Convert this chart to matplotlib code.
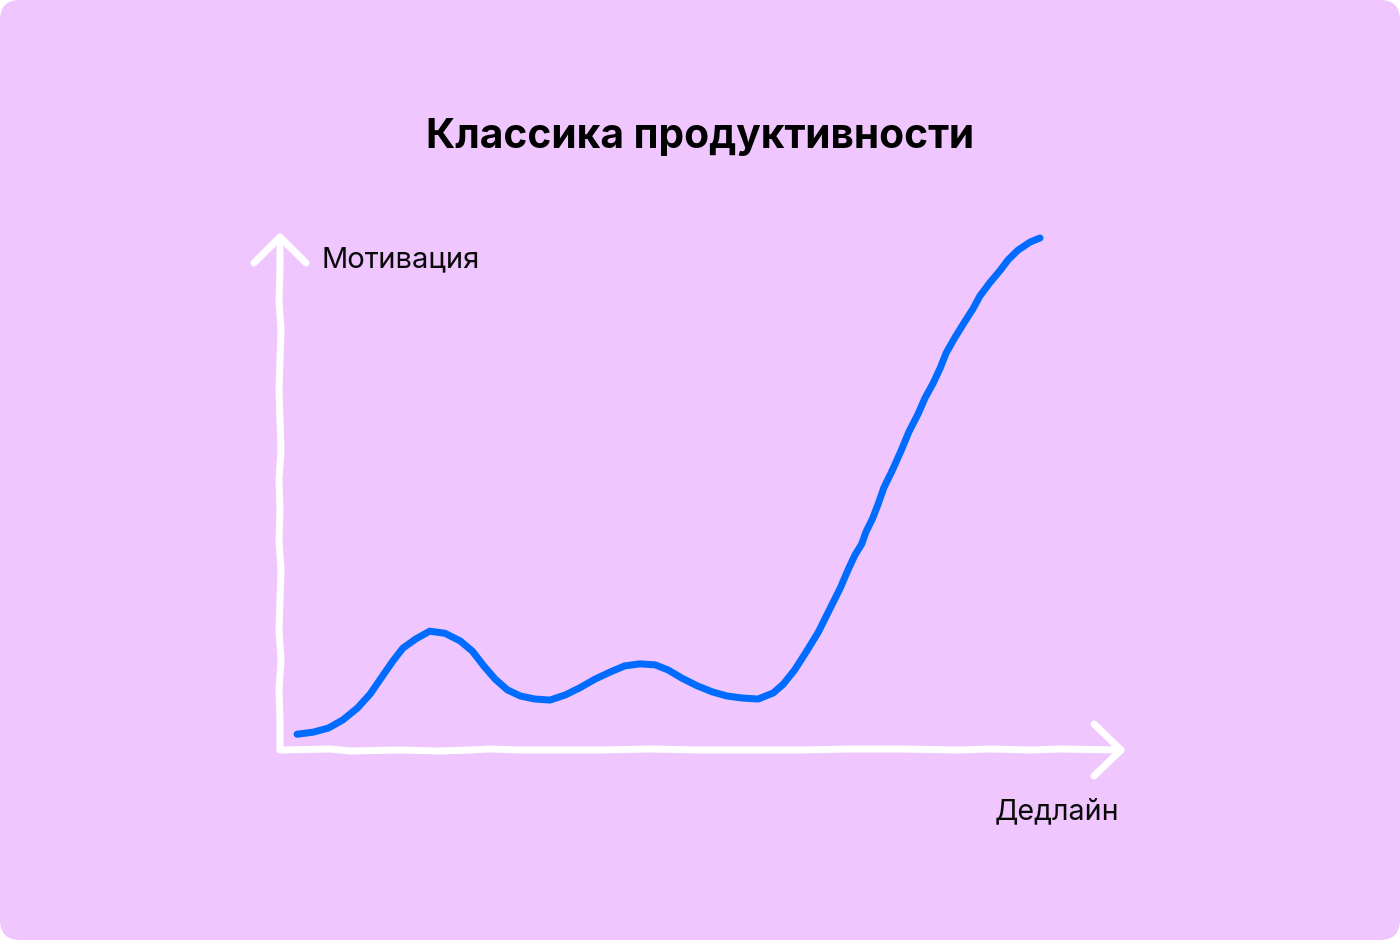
import matplotlib
matplotlib.use("Agg")
import matplotlib.pyplot as plt
from matplotlib.patches import FancyBboxPatch

# ---- data: deadline progress (%) vs motivation (%) ----
progress = [2.5, 4.6, 6.6, 8.5, 10.4, 12.1, 13.8, 15.1, 16.4, 18.1, 19.9, 21.9, 23.9,
            25.5, 27.0, 28.5, 30.1, 31.8, 33.7, 35.7, 37.7, 39.6, 41.6, 43.6, 45.5,
            47.5, 49.5, 51.2, 53.0, 55.0, 57.0, 58.9, 60.9, 63.0, 65.0, 66.3, 67.8,
            69.3, 70.9, 72.3, 73.8, 74.8, 75.7, 76.6, 77.2, 78.0, 78.7, 79.5, 80.7,
            81.8, 82.8, 84.0, 84.9, 86.0, 86.9, 87.7, 88.8, 90.0, 91.2, 92.1, 93.4,
            94.8, 95.8, 97.1, 98.7, 100.0]
motivation = [2.7, 3.1, 3.9, 5.5, 7.8, 10.6, 14.3, 17.1, 19.6, 21.4, 22.9, 22.5, 21.0,
              19.0, 16.1, 13.5, 11.4, 10.2, 9.6, 9.4, 10.4, 11.8, 13.5, 14.9, 16.1,
              16.5, 16.3, 15.3, 13.7, 12.2, 11.0, 10.2, 9.8, 9.6, 10.8, 12.5, 15.3,
              18.8, 22.7, 26.9, 31.4, 34.9, 37.8, 40.0, 42.5, 44.9, 47.6, 51.0, 54.7,
              58.4, 62.0, 65.5, 68.6, 71.6, 74.5, 77.5, 80.4, 83.3, 86.1, 88.6, 91.2,
              93.7, 95.7, 97.6, 99.2, 100.0]

title = "Классика продуктивности"
y_label = "Мотивация"
x_label = "Дедлайн"

BG = "#EFC6FD"
BLUE = "#006CFF"
W, H = 1400, 940

fig = plt.figure(figsize=(W / 100, H / 100), dpi=100, facecolor="white")

# background card with rounded corners (pixel coords)
bg = fig.add_axes([0, 0, 1, 1])
bg.set_xlim(0, W)
bg.set_ylim(H, 0)
bg.axis("off")
bg.add_patch(FancyBboxPatch((20, 20), W - 40, H - 40,
                            boxstyle="round,pad=20,rounding_size=20",
                            facecolor=BG, edgecolor="none"))

lw = 7 * 72 / 100  # ~7 px
style = dict(color="white", lw=lw, solid_capstyle="round", solid_joinstyle="round")

# hand-drawn white axes (decoration, pixel coords)
yax_x = [280, 280, 279, 281, 279, 280, 281, 279, 280, 279, 281, 280, 279, 280, 281, 279, 280, 280]
yax_y = [750, 720, 690, 660, 630, 600, 570, 540, 510, 480, 450, 420, 390, 360, 330, 300, 270, 238]
bg.plot(yax_x, yax_y, **style)
bg.plot([254, 280, 306], [263, 237, 263], **style)

xax_x = [280, 330, 350, 400, 440, 470, 490, 520, 560, 600, 650, 700, 760, 800, 850, 900, 960, 990, 1030, 1060, 1121]
xax_y = [750, 749, 751, 750, 751, 750, 749, 750, 750, 750, 749, 750, 750, 750, 749, 749, 750, 749, 750, 749, 750]
bg.plot(xax_x, xax_y, **style)
bg.plot([1094, 1121, 1094], [724, 750, 776], **style)

# chart axes: 0..100 maps to px x 278..1040, px y 748..238
ax = fig.add_axes([278 / W, (H - 748) / H, (1040 - 278) / W, (748 - 238) / H])
ax.set_xlim(0, 100)
ax.set_ylim(0, 100)
ax.axis("off")
ax.patch.set_alpha(0)
ax.plot(progress, motivation, color=BLUE, lw=lw, solid_capstyle="round",
        solid_joinstyle="round", clip_on=False)

fam = ["Inter", "DejaVu Sans"]
fig.text(0.5, 1 - 148 / H, title, ha="center", va="baseline", fontsize=29.3,
         fontweight="bold", family=fam, color="black")
fig.text(321 / W, 1 - 267 / H, y_label, ha="left", va="baseline", fontsize=21,
         family=fam, color="#0A0A0A")
fig.text(1119 / W, 1 - 819 / H, x_label, ha="right", va="baseline", fontsize=20.6,
         family=fam, color="#0A0A0A")

fig.savefig("out.png", dpi=100, facecolor="white")
